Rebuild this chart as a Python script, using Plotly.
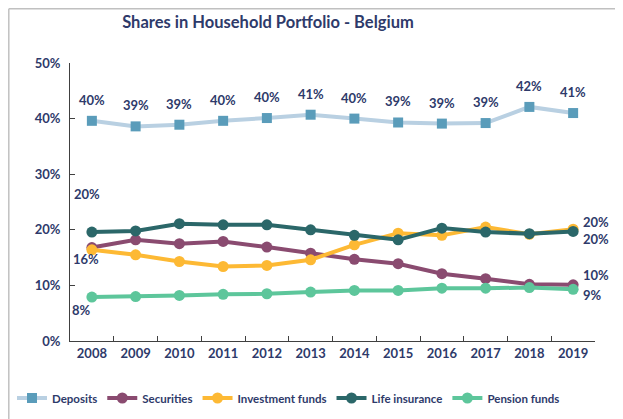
import plotly.graph_objects as go

years = ["2008", "2009", "2010", "2011", "2012", "2013", "2014", "2015", "2016", "2017", "2018", "2019"]
deposits = [39.6, 38.6, 38.9, 39.6, 40.1, 40.7, 40.0, 39.3, 39.1, 39.2, 42.1, 41.0]
securities = [16.8, 18.2, 17.5, 17.9, 16.9, 15.8, 14.7, 13.9, 12.1, 11.2, 10.2, 10.1]
investment_funds = [16.4, 15.5, 14.3, 13.4, 13.6, 14.6, 17.3, 19.4, 19.0, 20.5, 19.2, 20.1]
life_insurance = [19.6, 19.8, 21.1, 20.9, 20.9, 20.0, 19.0, 18.2, 20.3, 19.6, 19.3, 19.7]
pension_funds = [7.9, 8.0, 8.2, 8.4, 8.5, 8.8, 9.1, 9.1, 9.5, 9.5, 9.6, 9.3]

names = ["Deposits", "Securities", "Investment funds", "Life insurance", "Pension funds"]
line_colors = ["#B9D0E2", "#8A4B70", "#FDB934", "#2B6769", "#5DC69B"]
marker_colors = ["#5A9CBA", "#8A4B70", "#FDB934", "#2B6769", "#5DC69B"]
symbols = ["square", "circle", "circle", "circle", "circle"]
series = [deposits, securities, investment_funds, life_insurance, pension_funds]

NAVY = "#2E3A6A"
FONT = "Lato"

# page body has an 8px margin: figure is sized to fill the rest of the window
W, H = 615, 411
L, R, T, B = 62, 28, 55, 78
PW, PH = W - L - R, H - T - B

fig = go.Figure()
for name, vals, lc, mc, sym in zip(names, series, line_colors, marker_colors, symbols):
    fig.add_trace(go.Scatter(
        x=years, y=[v / 100 for v in vals], name=name, mode="lines+markers",
        line=dict(color=lc, width=4),
        marker=dict(color=mc, size=10 if sym == "square" else 11, symbol=sym),
    ))

annotations = []
lab_font = dict(family=FONT, size=13, color=NAVY, weight="bold")
last = len(years) - 1
# Deposits: labels above every point (x given as category index)
for i, v in enumerate(deposits):
    annotations.append(dict(x=i, y=v / 100, text=f"{round(v)}%", showarrow=False,
                            yshift=21, font=lab_font))
# first-year labels
annotations.append(dict(x=0, y=life_insurance[0] / 100, text=f"{round(life_insurance[0])}%",
                        showarrow=False, xshift=-5, yshift=38, font=lab_font))
annotations.append(dict(x=0, y=investment_funds[0] / 100, text=f"{round(investment_funds[0])}%",
                        showarrow=False, xshift=-6, yshift=-9, font=lab_font))
annotations.append(dict(x=0, y=pension_funds[0] / 100, text=f"{round(pension_funds[0])}%",
                        showarrow=False, xshift=-10, yshift=-13, font=lab_font))
# last-year labels
for vals, ys in [(investment_funds, 7), (life_insurance, -8), (securities, 10), (pension_funds, -6)]:
    annotations.append(dict(x=last, y=vals[-1] / 100, text=f"{round(vals[-1])}%",
                            showarrow=False, xanchor="left", xshift=8, yshift=ys, font=lab_font))

fig.update_layout(
    width=W, height=H, autosize=False,
    margin=dict(l=L, r=R, t=T, b=B, autoexpand=False),
    paper_bgcolor="white", plot_bgcolor="white",
    font=dict(family=FONT, color=NAVY),
    title=dict(text="<b>Shares in Household Portfolio - Belgium</b>", x=260 / W, xref="container",
               xanchor="center", y=1 - 14 / H, yref="container", yanchor="middle",
               font=dict(family=FONT, size=16.5, color=NAVY)),
    showlegend=True,
    legend=dict(orientation="h", xref="paper", x=(4 - L) / PW, xanchor="left",
                yref="paper", y=-(390 - (T + PH)) / PH, yanchor="middle",
                font=dict(family=FONT, size=11.5, color=NAVY, weight="bold"),
                itemwidth=30, tracegroupgap=0, bgcolor="rgba(0,0,0,0)"),
    annotations=annotations,
)
fig.update_xaxes(type="category", range=[-0.5, len(years) - 0.5], showline=True,
                 linecolor="#404040", linewidth=1, automargin=False,
                 ticks="inside", tickson="boundaries", ticklen=5, tickcolor="#404040",
                 showgrid=False, zeroline=False,
                 tickfont=dict(family=FONT, size=13, color=NAVY, weight="bold"))
fig.update_yaxes(range=[0, 0.5], tickvals=[0, 0.1, 0.2, 0.3, 0.4, 0.5], tickformat=".0%",
                 showline=True, linecolor="#404040", linewidth=1, ticks="inside", ticklen=5,
                 automargin=False,
                 tickcolor="#404040", showgrid=False, zeroline=False, ticklabelstandoff=6,
                 tickfont=dict(family=FONT, size=13, color=NAVY, weight="bold"))

# frame border (top and left visible)
fig.add_shape(type="line", xref="paper", yref="paper", x0=-L / PW + 0.8 / PW, x1=1 + R / PW,
              y0=1 + (T - 0.8) / PH, y1=1 + (T - 0.8) / PH, line=dict(color="#C0C0C0", width=1.5))
fig.add_shape(type="line", xref="paper", yref="paper", x0=-L / PW + 0.8 / PW, x1=-L / PW + 0.8 / PW,
              y0=1 + (T - 0.8) / PH, y1=-B / PH, line=dict(color="#C0C0C0", width=1.5))

fig.write_html("out.html")
